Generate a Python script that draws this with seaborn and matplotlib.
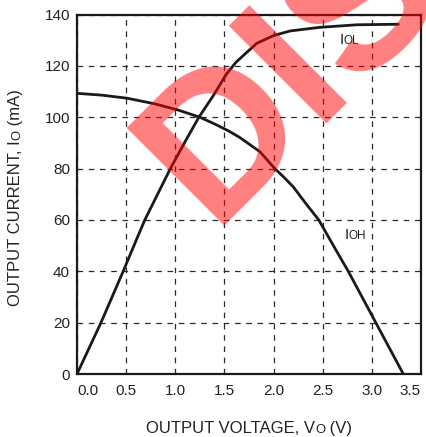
import matplotlib
matplotlib.use("Agg")
import matplotlib.pyplot as plt
import seaborn as sns
import pandas as pd
import numpy as np

# ---- data ----
V_OL = [0.0, 0.244, 0.47, 0.61, 0.69, 0.95, 1.10, 1.24, 1.39, 1.52, 1.62, 1.72, 1.83, 2.0, 2.17, 2.47, 2.85, 3.27]
I_OL = [0.0, 20.0, 40.0, 52.8, 60.0, 80.0, 90.5, 100.0, 108.6, 116.8, 121.5, 125.0, 128.8, 131.8, 133.6, 135.0, 136.0, 136.2]

V_OH = [0.0, 0.25, 0.51, 0.78, 1.02, 1.25, 1.41, 1.55, 1.66, 1.86, 2.01, 2.10, 2.20, 2.34, 2.46, 2.57, 2.69, 2.76, 3.04, 3.32]
I_OH = [109.3, 108.6, 107.4, 105.3, 102.9, 100.0, 97.2, 94.5, 92.0, 86.6, 80.1, 76.8, 72.9, 65.8, 60.0, 52.6, 44.6, 40.0, 20.0, 0.0]

x_ticks = [0.0, 0.5, 1.0, 1.5, 2.0, 2.5, 3.0, 3.5]
y_ticks = [0, 20, 40, 60, 80, 100, 120, 140]
x_tick_labels = ["0.0", "0.5", "1.0", "1.5", "2.0", "2.5", "3.0", "3.5"]

xlabel_pieces = [("OUTPUT VOLTAGE, V", "big"), ("O", "small"), (" (V)", "big")]
ylabel_pieces = [("OUTPUT CURRENT, I", "big"), ("O", "small"), (" (mA)", "big")]
curve_labels = [("I", "OL", 2.67, 128.5), ("I", "OH", 2.72, 52.6)]
watermark = "DIS"

sns.set_theme(style="white")
plt.rcParams["font.family"] = ["Liberation Sans", "DejaVu Sans"]

W, H = 426, 437
fig = plt.figure(figsize=(W / 100, H / 100), dpi=100)
ax = fig.add_axes([77 / W, (H - 374) / H, 344 / W, 359.5 / H])

ink = "#1a1a1a"
df_ol = pd.DataFrame({"V": V_OL, "I": I_OL})
df_oh = pd.DataFrame({"V": V_OH, "I": I_OH})
sns.lineplot(data=df_ol, x="V", y="I", sort=False, estimator=None, color=ink, linewidth=2.0, ax=ax, zorder=3)
sns.lineplot(data=df_oh, x="V", y="I", sort=False, estimator=None, color=ink, linewidth=2.0, ax=ax, zorder=3)
for ln in ax.lines:
    ln.set_solid_joinstyle("round")

ax.set_xlim(0, 3.5)
ax.set_ylim(0, 140)
ax.set_xticks(x_ticks)
ax.set_xticklabels(x_tick_labels)
ax.set_yticks(y_ticks)
ax.set_xlabel("")
ax.set_ylabel("")
ax.set_axisbelow(True)
ax.grid(True, color="#2a2a2a", lw=0.9, linestyle=(0, (4.5, 4.5)))
ax.tick_params(length=0, labelsize=11, labelcolor="#222222")
ax.tick_params(axis="x", pad=7)
ax.tick_params(axis="y", pad=5)
xtl = ax.get_xticklabels()
xtl[0].set_ha("left")
xtl[-1].set_ha("right")
for s in ax.spines.values():
    s.set_visible(True)
    s.set_color(ink)
    s.set_linewidth(1.6)

sizes = {"big": 12.0, "small": 9.4}
fig.canvas.draw()
renderer = fig.canvas.get_renderer()


def text_width(s, size):
    t = fig.text(0, 0, s.replace(" ", "\u00a0") + "|", fontsize=size)
    w1 = t.get_window_extent(renderer).width
    t.remove()
    t = fig.text(0, 0, "|", fontsize=size)
    w2 = t.get_window_extent(renderer).width
    t.remove()
    return w1 - w2


# x label (centred on axes, baseline at y=433 px)
widths = [text_width(s, sizes[k]) for s, k in xlabel_pieces]
x = 249 - sum(widths) / 2
for (s, k), w in zip(xlabel_pieces, widths):
    fig.text(x / W, (H - 433) / H, s, fontsize=sizes[k], color="#222222",
             ha="left", va="baseline")
    x += w

# y label (rotated, baseline at x=20 px, centred at y=198 px)
widths = [text_width(s, sizes[k]) for s, k in ylabel_pieces]
y = (H - 198) - sum(widths) / 2
for (s, k), w in zip(ylabel_pieces, widths):
    fig.text(20 / W, y / H, s, fontsize=sizes[k], color="#222222",
             ha="left", va="baseline", rotation=90, rotation_mode="anchor")
    y += w

# curve labels
for main, sub, vx, iy in curve_labels:
    ax.text(vx, iy, main, fontsize=11, color="#222222", ha="left", va="baseline")
    wpx = text_width(main, 11)
    dx = wpx / (344 / 3.5)
    ax.text(vx + dx, iy, sub, fontsize=8.5, color="#222222", ha="left", va="baseline")

# watermark
fig.text(211 / W, (H - 226) / H, watermark, fontsize=145, fontweight="bold",
         color="red", alpha=0.5, rotation=45, rotation_mode="anchor",
         ha="left", va="baseline", zorder=10)

fig.savefig("out.png", dpi=100)
